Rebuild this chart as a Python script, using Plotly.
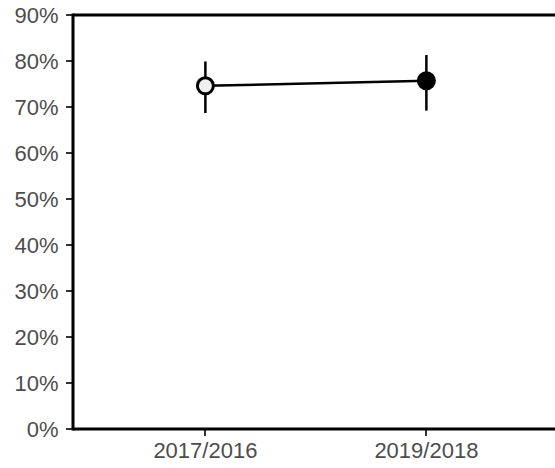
import plotly.graph_objects as go

categories = ["2017/2016", "2019/2018"]
values = [0.746, 0.757]
upper = [0.799, 0.813]
lower = [0.687, 0.692]
marker_fills = ["#f0f0f0", "#000000"]
y_tickvals = [0, 0.1, 0.2, 0.3, 0.4, 0.5, 0.6, 0.7, 0.8, 0.9]
y_ticktext = ["0%", "10%", "20%", "30%", "40%", "50%", "60%", "70%", "80%", "90%"]

err_plus = [u - v for u, v in zip(upper, values)]
err_minus = [v - l for v, l in zip(values, lower)]

fig = go.Figure()
fig.add_trace(go.Scatter(
    x=categories, y=values, mode="lines",
    line=dict(color="black", width=2.5),
    hoverinfo="skip", showlegend=False,
))
fig.add_trace(go.Scatter(
    x=categories, y=values, mode="markers",
    marker=dict(size=16, color=marker_fills, line=dict(color="black", width=3)),
    error_y=dict(type="data", symmetric=False, array=err_plus, arrayminus=err_minus,
                 color="black", thickness=2.5, width=0),
    showlegend=False,
))

font = dict(family="Liberation Sans, Arial, sans-serif", size=22, color="#4d4d4d")

fig.update_layout(
    width=555, height=468,
    margin=dict(l=73, r=0, t=15, b=39, pad=0),
    plot_bgcolor="white", paper_bgcolor="white",
    font=font,
    xaxis=dict(
        type="category", range=[-0.599, 1.582], automargin=False,
        showgrid=False, zeroline=False, showline=False,
        ticks="outside", ticklen=6, tickwidth=2, tickcolor="#333333",
        tickfont=font, fixedrange=True, ticklabelstandoff=-4,
    ),
    yaxis=dict(
        range=[0, 0.9], tickvals=y_tickvals, ticktext=y_ticktext, automargin=False,
        showgrid=False, zeroline=False, showline=False,
        ticks="outside", ticklen=6, tickwidth=2, tickcolor="#333333",
        tickfont=font, fixedrange=True, ticklabelstandoff=3,
    ),
    shapes=[
        dict(type="line", xref="paper", yref="paper", x0=0, x1=1, y0=0, y1=0,
             line=dict(color="black", width=3), layer="above"),
        dict(type="line", xref="paper", yref="paper", x0=0, x1=1, y0=1, y1=1,
             line=dict(color="black", width=3), layer="above"),
        dict(type="line", xref="paper", yref="paper", x0=0, x1=0, y0=-0.0036, y1=1.0036,
             line=dict(color="black", width=3), layer="above"),
    ],
)

post = (
    "document.documentElement.style.margin='0';"
    "document.body.style.margin='0';document.body.style.padding='0';"
    "document.body.style.overflow='hidden';"
    "var gd=document.getElementById('{plot_id}');"
    "Plotly.relayout(gd,{width:555,height:468});"
)

fig.write_html("out.html", post_script=post, config={"displayModeBar": False})
